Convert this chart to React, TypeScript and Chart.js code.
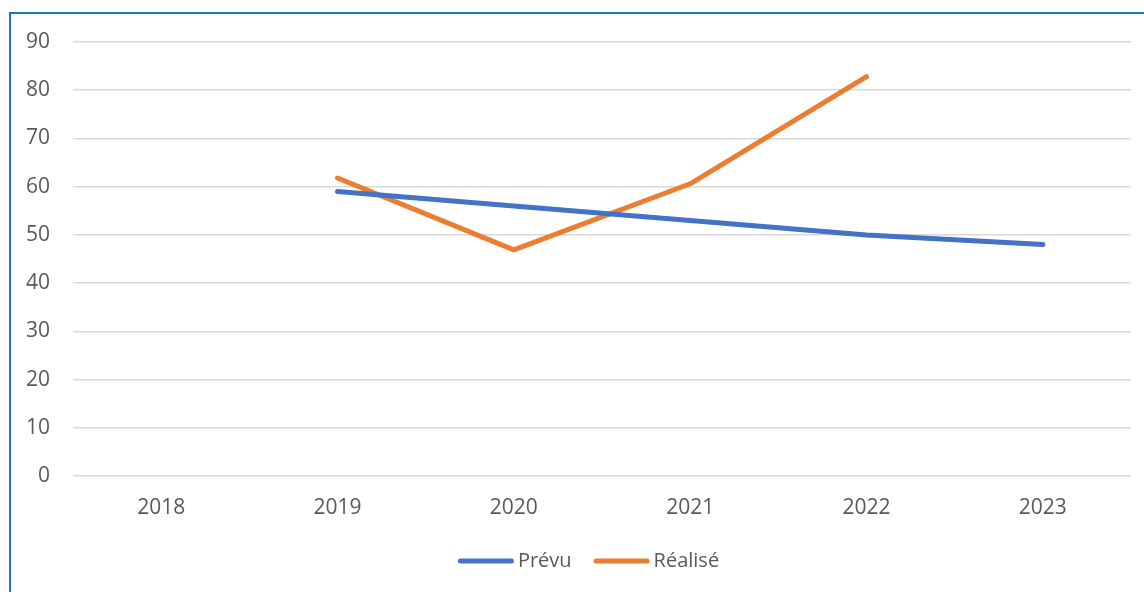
import React, { useEffect, useRef } from "react";
import { Chart, registerables } from "chart.js";

Chart.register(...registerables);

const years = ["2018", "2019", "2020", "2021", "2022", "2023"];
const prevu = [null, 59, 56, 53, 50, 48];
const realise = [null, 61.8, 46.9, 60.6, 82.8, null];
const yTicks = [0, 10, 20, 30, 40, 50, 60, 70, 80, 90];

const FONT = "'Open Sans', 'Noto Sans', sans-serif";
const TEXT = "#595959";

// Bottom legend: a thick rounded line swatch followed closely by the series name.
const lineLegend = {
  id: "lineLegend",
  afterDraw(chart: any) {
    const ctx = chart.ctx as CanvasRenderingContext2D;
    const sets = chart.data.datasets;
    const swatch = 56;
    const gapText = 4;
    const gapItem = 22;
    ctx.save();
    ctx.font = `20px ${FONT}`;
    const widths = sets.map((d: any) => ctx.measureText(d.label).width);
    const total =
      widths.reduce((a: number, w: number) => a + w + swatch + gapText, 0) +
      gapItem * (sets.length - 1);
    let x = chart.width / 2 + 11 - total / 2;
    const y = 547;
    sets.forEach((d: any, i: number) => {
      ctx.strokeStyle = d.borderColor;
      ctx.lineWidth = 5;
      ctx.lineCap = "round";
      ctx.beginPath();
      ctx.moveTo(x + 2.5, y);
      ctx.lineTo(x + swatch - 2.5, y);
      ctx.stroke();
      x += swatch + gapText;
      ctx.fillStyle = TEXT;
      ctx.textBaseline = "middle";
      ctx.textAlign = "left";
      ctx.fillText(d.label, x, y);
      x += widths[i] + gapItem;
    });
    ctx.restore();
  },
};

export default function App() {
  const ref = useRef<HTMLCanvasElement | null>(null);

  useEffect(() => {
    if (!ref.current) return;
    const chart = new Chart(ref.current, {
      type: "line",
      data: {
        labels: years,
        datasets: [
          {
            label: "Prévu",
            data: prevu,
            borderColor: "#4472C4",
            backgroundColor: "#4472C4",
            borderWidth: 5,
            borderCapStyle: "round",
            borderJoinStyle: "round",
            pointRadius: 0,
            tension: 0,
          },
          {
            label: "Réalisé",
            data: realise,
            borderColor: "#ED7D31",
            backgroundColor: "#ED7D31",
            borderWidth: 5,
            borderCapStyle: "round",
            borderJoinStyle: "round",
            pointRadius: 0,
            tension: 0,
          },
        ],
      },
      plugins: [lineLegend],
      options: {
        animation: false,
        responsive: false,
        layout: { padding: { top: 28, right: 13, bottom: 52.5, left: 0 } },
        plugins: {
          tooltip: { enabled: false },
          legend: { display: false },
        },
        scales: {
          x: {
            offset: true,
            grid: { display: false, drawTicks: false },
            border: { display: false },
            ticks: { color: TEXT, font: { family: FONT, size: 21 }, padding: 19, maxRotation: 0 },
            afterFit: (s: any) => {
              s.height = 63.5;
            },
          },
          y: {
            min: 0,
            max: 90,
            afterBuildTicks: (s: any) => {
              s.ticks = yTicks.map((v) => ({ value: v }));
            },
            grid: { color: "#d9d9d9", lineWidth: 1.5, drawTicks: false },
            border: { display: false },
            ticks: { color: TEXT, font: { family: FONT, size: 21 }, padding: 23 },
            afterFit: (s: any) => {
              s.width = 62;
              s.paddingTop = 0;
              s.paddingBottom = 0;
            },
          },
        },
      },
    });
    return () => chart.destroy();
  }, []);

  return (
    <div
      style={{
        position: "absolute",
        left: 9,
        top: 12,
        width: 1135,
        height: 580,
        borderTop: "2px solid #1f74c4",
        borderLeft: "2px solid #1f74c4",
        background: "#fff",
      }}
    >
      <canvas ref={ref} width={1133} height={578} style={{ display: "block" }} />
    </div>
  );
}
